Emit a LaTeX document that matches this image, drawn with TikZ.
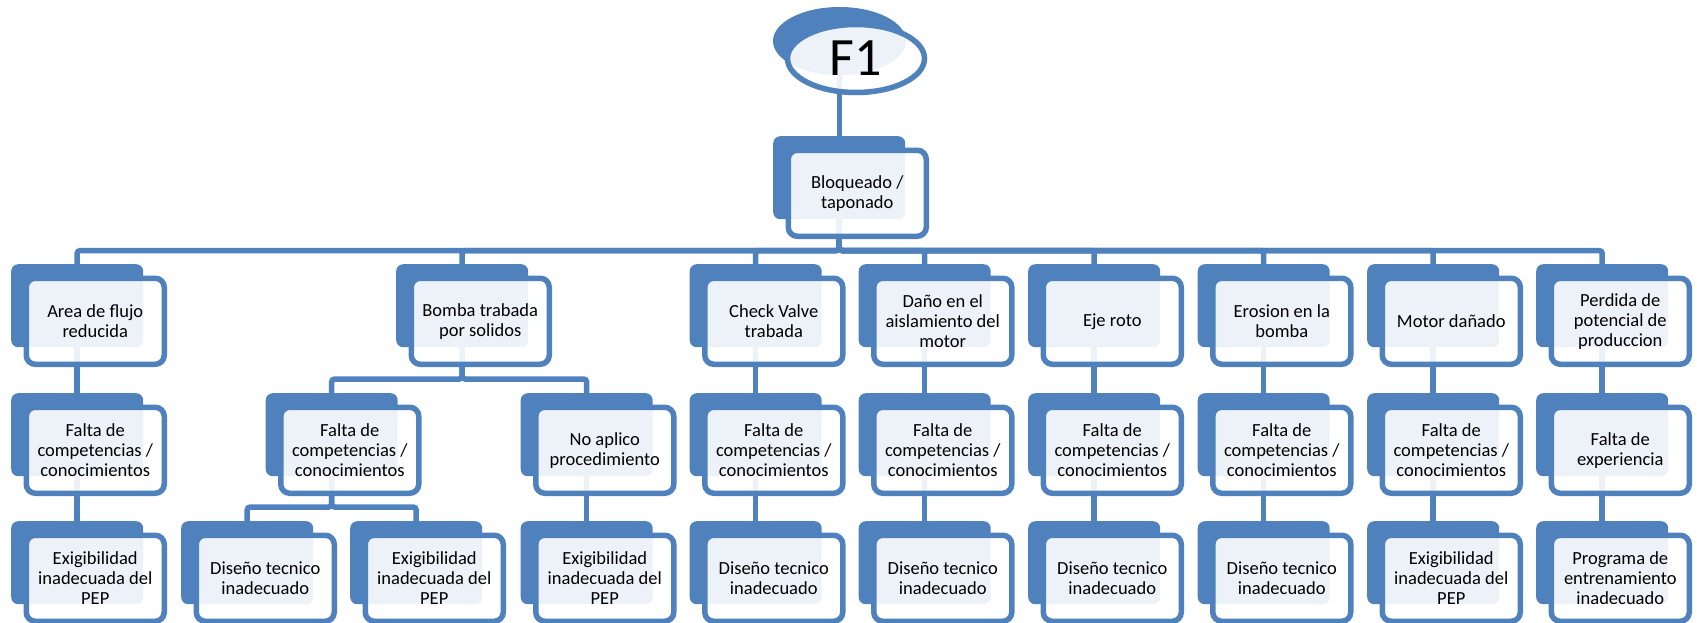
\documentclass[tikz,border=0pt]{standalone}
\usepackage{fontspec}
\setmainfont{Carlito}
\usetikzlibrary{shapes.geometric,backgrounds}
\definecolor{accent}{HTML}{4F81BD}
\tikzset{
  backbox/.style={rectangle, rounded corners=7pt, fill=accent,
    minimum width=132pt, minimum height=83pt, inner sep=0pt, anchor=north west},
  frontbox/.style={rectangle, rounded corners=9pt, draw=accent, line width=5.5pt,
    fill=white, fill opacity=0.9, text opacity=1,
    minimum width=138pt, minimum height=86pt, inner sep=0pt, align=center,
    anchor=north west, font=\fontsize{18.5}{20}\selectfont},
  backoval/.style={ellipse, fill=accent, minimum width=133pt, minimum height=68pt, inner sep=0pt},
  frontoval/.style={ellipse, draw=accent, line width=5.5pt, fill=white, fill opacity=0.9,
    text opacity=1, minimum width=137pt, minimum height=68pt, inner sep=0pt,
    font=\fontsize{54}{54}\selectfont},
  conn/.style={draw=accent, line width=5.5pt, rounded corners=3pt},
}
% #1 name, #2 left, #3 top of the shaded back plate, #4 label
\newcommand\causebox[4]{%
  \node[backbox] (#1-b) at (#2,#3) {};
  \node[frontbox] (#1) at (#2+12.5,#3+11.5) {#4};}
\begin{document}
\begin{tikzpicture}[x=1pt,y=-1pt]
\useasboundingbox (0,0) rectangle (1697,622);

% top event
\node[backoval] (f1-b) at (839.5,41) {};
\node[frontoval] (f1) at (856,58.5) {F1};

% failure mode
\causebox{mode}{773}{136}{Bloqueado /\\taponado}

% causes, level 1
\causebox{a1}{11}{264}{Area de flujo\\reducida}
\causebox{b1}{396}{264}{Bomba trabada\\por solidos}
\causebox{c1}{689.5}{264}{Check Valve\\trabada}
\causebox{d1}{858.5}{264}{Daño en el\\aislamiento del\\motor}
\causebox{e1}{1028}{264}{Eje roto}
\causebox{g1}{1197.5}{264}{Erosion en la\\bomba}
\causebox{h1}{1367}{264}{Motor dañado}
\causebox{k1}{1536}{264}{Perdida de\\potencial de\\produccion}

% causes, level 2
\causebox{a2}{11}{393}{Falta de\\competencias /\\conocimientos}
\causebox{b2}{265.5}{393}{Falta de\\competencias /\\conocimientos}
\causebox{n2}{520.5}{393}{No aplico\\procedimiento}
\causebox{c2}{689.5}{393}{Falta de\\competencias /\\conocimientos}
\causebox{d2}{858.5}{393}{Falta de\\competencias /\\conocimientos}
\causebox{e2}{1028}{393}{Falta de\\competencias /\\conocimientos}
\causebox{g2}{1197.5}{393}{Falta de\\competencias /\\conocimientos}
\causebox{h2}{1367}{393}{Falta de\\competencias /\\conocimientos}
\causebox{k2}{1536}{393}{Falta de\\experiencia}

% root causes
\causebox{a3}{11}{521}{Exigibilidad\\inadecuada del\\PEP}
\causebox{b3}{181}{521}{Diseño tecnico\\inadecuado}
\causebox{m3}{350}{521}{Exigibilidad\\inadecuada del\\PEP}
\causebox{n3}{520.5}{521}{Exigibilidad\\inadecuada del\\PEP}
\causebox{c3}{689.5}{521}{Diseño tecnico\\inadecuado}
\causebox{d3}{858.5}{521}{Diseño tecnico\\inadecuado}
\causebox{e3}{1028}{521}{Diseño tecnico\\inadecuado}
\causebox{g3}{1197.5}{521}{Diseño tecnico\\inadecuado}
\causebox{h3}{1367}{521}{Exigibilidad\\inadecuada del\\PEP}
\causebox{k3}{1536}{521}{Programa de\\entrenamiento\\inadecuado}

% levels of the horizontal bars
\coordinate (barA) at (0,250.5);
\coordinate (barB) at (0,379);
\coordinate (barC) at (0,507);

\begin{pgfonlayer}{background}
  \draw[conn] (f1-b.center) -- (f1-b.center |- mode-b.center);
  \foreach \c in {a1,b1,c1,d1,e1,g1,h1,k1}
    \draw[conn] (mode-b.center) -- (mode-b.center |- barA) -| (\c-b.center);
  \foreach \c in {b2,n2}
    \draw[conn] (b1-b.center) -- (b1-b.center |- barB) -| (\c-b.center);
  \foreach \c in {b3,m3}
    \draw[conn] (b2-b.center) -- (b2-b.center |- barC) -| (\c-b.center);
  \foreach \c in {a,c,d,e,g,h,k}
    \draw[conn] (\c1-b.center) -- (\c2-b.center) -- (\c3-b.center);
  \draw[conn] (n2-b.center) -- (n3-b.center);
\end{pgfonlayer}
\end{tikzpicture}
\end{document}
